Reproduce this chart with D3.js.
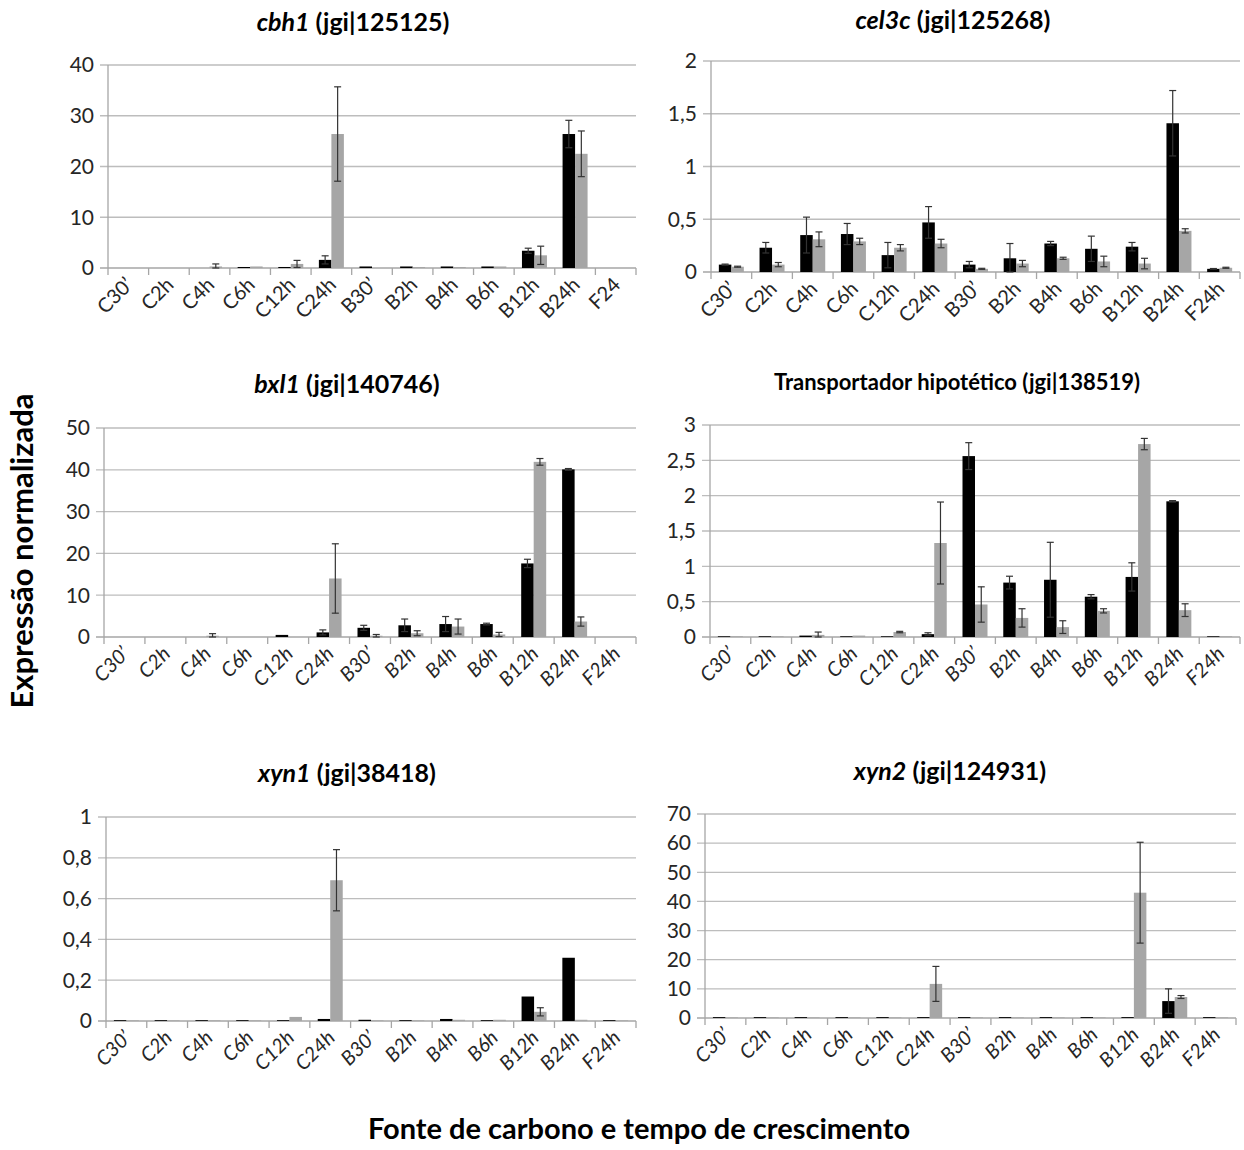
<!DOCTYPE html>
<meta charset="utf-8">
<style>
body { margin: 0; background: #fff; }
text { font-family: Lato, "Open Sans", sans-serif; }
.grid { stroke: #bdbdbd; stroke-width: 1.3px; }
.axisline { stroke: #a6a6a6; stroke-width: 1.3px; }
.tick-lab { fill: #262626; font-size: 21px; }
.cat-lab { fill: #262626; font-size: 20px; }
.title { fill: #000; font-weight: bold; font-size: 25px; }
.err { stroke: #333; stroke-width: 1.2px; }
</style>
<body>
<script src="https://d3js.org/d3.v7.min.js"></script>
<script>

var width = 1244,
    height = 1150;

var cats = ["C30’", "C2h", "C4h", "C6h", "C12h", "C24h", "B30’", "B2h", "B4h", "B6h", "B12h", "B24h", "F24h"];
var catsCbh1 = ["C30’", "C2h", "C4h", "C6h", "C12h", "C24h", "B30’", "B2h", "B4h", "B6h", "B12h", "B24h", "F24"];

// cbh1
var cbh1Black    = [0, 0, 0, 0.2, 0.2, 1.6, 0.3, 0.3, 0.3, 0.3, 3.4, 26.4, 0];
var cbh1BlackErr = [0, 0, 0, 0, 0, 0.8, 0, 0, 0, 0, 0.5, 2.7, 0];
var cbh1Grey     = [0, 0, 0.3, 0.3, 0.8, 26.4, 0, 0.2, 0.2, 0.3, 2.5, 22.5, 0];
var cbh1GreyErr  = [0, 0, 0.5, 0, 0.7, 9.3, 0, 0, 0, 0, 1.8, 4.5, 0];

// cel3c
var cel3cBlack    = [0.07, 0.23, 0.35, 0.36, 0.16, 0.47, 0.07, 0.13, 0.27, 0.22, 0.24, 1.41, 0.03];
var cel3cBlackErr = [0.005, 0.05, 0.17, 0.1, 0.12, 0.15, 0.03, 0.14, 0.02, 0.12, 0.04, 0.31, 0.003];
var cel3cGrey     = [0.05, 0.07, 0.31, 0.29, 0.23, 0.27, 0.03, 0.08, 0.13, 0.1, 0.08, 0.39, 0.04];
var cel3cGreyErr  = [0.005, 0.02, 0.07, 0.03, 0.03, 0.04, 0.005, 0.03, 0.01, 0.05, 0.05, 0.02, 0.005];

// bxl1
var bxl1Black    = [0, 0, 0, 0, 0.5, 1.1, 2.2, 2.8, 3.1, 3.1, 17.6, 40.1, 0];
var bxl1BlackErr = [0, 0, 0, 0, 0, 0.6, 0.6, 1.5, 1.8, 0.2, 1, 0.2, 0];
var bxl1Grey     = [0, 0, 0.3, 0, 0, 14, 0.3, 0.9, 2.5, 0.6, 41.9, 3.7, 0];
var bxl1GreyErr  = [0, 0, 0.5, 0, 0, 8.3, 0.3, 0.6, 1.8, 0.5, 0.8, 1.1, 0];

// transportador hipotetico
var transBlack    = [0.01, 0.01, 0.02, 0.01, 0.01, 0.04, 2.56, 0.77, 0.81, 0.57, 0.85, 1.92, 0.01];
var transBlackErr = [0, 0, 0, 0, 0, 0.02, 0.19, 0.09, 0.53, 0.03, 0.2, 0.01, 0];
var transGrey     = [0.01, 0.01, 0.03, 0.02, 0.07, 1.33, 0.46, 0.27, 0.14, 0.37, 2.73, 0.38, 0.01];
var transGreyErr  = [0, 0, 0.04, 0, 0.01, 0.58, 0.25, 0.13, 0.09, 0.03, 0.08, 0.09, 0];

// xyn1
var xyn1Black    = [0.004, 0.004, 0.004, 0.004, 0.004, 0.01, 0.006, 0.004, 0.01, 0.004, 0.12, 0.31, 0.004];
var xyn1BlackErr = [0, 0, 0, 0, 0, 0, 0, 0, 0, 0, 0, 0, 0];
var xyn1Grey     = [0.003, 0.003, 0.003, 0.003, 0.02, 0.69, 0.003, 0.003, 0.006, 0.006, 0.045, 0.006, 0.003];
var xyn1GreyErr  = [0, 0, 0, 0, 0, 0.15, 0, 0, 0, 0, 0.02, 0, 0];

// xyn2
var xyn2Black    = [0.3, 0.3, 0.3, 0.3, 0.3, 0.3, 0.3, 0.3, 0.3, 0.3, 0.3, 5.8, 0.3];
var xyn2BlackErr = [0, 0, 0, 0, 0, 0, 0, 0, 0, 0, 0, 4.2, 0];
var xyn2Grey     = [0.2, 0.2, 0.2, 0.2, 0.2, 11.7, 0.2, 0.2, 0.2, 0.2, 43, 7.2, 0.2];
var xyn2GreyErr  = [0, 0, 0, 0, 0, 6, 0, 0, 0, 0, 17.3, 0.5, 0];

var panels = [
  {gene: "cbh1", rest: " (jgi|125125)", cats: catsCbh1,
   black: cbh1Black, blackErr: cbh1BlackErr, grey: cbh1Grey, greyErr: cbh1GreyErr,
   ticks: [0, 10, 20, 30, 40], italicCats: false,
   x0: 108, x1: 636, y0: 65, y1: 268, tx: 353, ty: 31},
  {gene: "cel3c", rest: " (jgi|125268)", cats: cats,
   black: cel3cBlack, blackErr: cel3cBlackErr, grey: cel3cGrey, greyErr: cel3cGreyErr,
   ticks: [0, 0.5, 1, 1.5, 2], italicCats: false,
   x0: 711, x1: 1240, y0: 61, y1: 272, tx: 953, ty: 29},
  {gene: "bxl1", rest: " (jgi|140746)", cats: cats,
   black: bxl1Black, blackErr: bxl1BlackErr, grey: bxl1Grey, greyErr: bxl1GreyErr,
   ticks: [0, 10, 20, 30, 40, 50], italicCats: true,
   x0: 104, x1: 636, y0: 428, y1: 637, tx: 347, ty: 393},
  {gene: "", rest: "Transportador hipotético (jgi|138519)", small: true, cats: cats,
   black: transBlack, blackErr: transBlackErr, grey: transGrey, greyErr: transGreyErr,
   ticks: [0, 0.5, 1, 1.5, 2, 2.5, 3], italicCats: true,
   x0: 710, x1: 1240, y0: 425, y1: 637, tx: 957, ty: 390},
  {gene: "xyn1", rest: " (jgi|38418)", cats: cats,
   black: xyn1Black, blackErr: xyn1BlackErr, grey: xyn1Grey, greyErr: xyn1GreyErr,
   ticks: [0, 0.2, 0.4, 0.6, 0.8, 1], italicCats: true,
   x0: 106, x1: 636, y0: 817, y1: 1021, tx: 347, ty: 782},
  {gene: "xyn2", rest: " (jgi|124931)", cats: cats,
   black: xyn2Black, blackErr: xyn2BlackErr, grey: xyn2Grey, greyErr: xyn2GreyErr,
   ticks: [0, 10, 20, 30, 40, 50, 60, 70], italicCats: true,
   x0: 705, x1: 1236, y0: 814, y1: 1018, tx: 950, ty: 780}
];

var fmt = function(v) { return String(v).replace(".", ","); };

var svg = d3.select("body").append("svg")
    .attr("width", width)
    .attr("height", height);

panels.forEach(function(p) {
  var g = svg.append("g");
  var ymax = p.ticks[p.ticks.length - 1];

  var x = d3.scaleBand()
      .domain(p.cats)
      .range([p.x0, p.x1])
      .paddingInner(0)
      .paddingOuter(0);

  var y = d3.scaleLinear()
      .domain([0, ymax])
      .range([p.y1, p.y0]);

  // gridlines + y labels
  g.selectAll(".grid")
      .data(p.ticks)
      .enter().append("line")
      .attr("class", function(d) { return d === 0 ? "axisline" : "grid"; })
      .attr("x1", p.x0 - 8)
      .attr("x2", p.x1)
      .attr("y1", function(d) { return y(d); })
      .attr("y2", function(d) { return y(d); });

  g.selectAll(".tick-lab")
      .data(p.ticks)
      .enter().append("text")
      .attr("class", "tick-lab")
      .attr("x", p.x0 - 14)
      .attr("y", function(d) { return y(d); })
      .attr("dy", "0.35em")
      .attr("text-anchor", "end")
      .text(fmt);

  // y axis line
  g.append("line")
      .attr("class", "axisline")
      .attr("x1", p.x0).attr("x2", p.x0)
      .attr("y1", p.y0).attr("y2", p.y1 + 7);

  // category boundary ticks
  var edges = p.cats.map(function(c) { return x(c); }).concat([p.x1]);
  g.selectAll(".ctick")
      .data(edges.slice(1))
      .enter().append("line")
      .attr("class", "axisline")
      .attr("x1", function(d) { return d; })
      .attr("x2", function(d) { return d; })
      .attr("y1", p.y1)
      .attr("y2", p.y1 + 7);

  var bw = 12.5;
  var cx = function(i) { return x(p.cats[i]) + x.bandwidth() / 2; };

  // bars
  g.selectAll(".bblack")
      .data(p.black)
      .enter().append("rect")
      .attr("x", function(d, i) { return cx(i) - bw; })
      .attr("width", bw)
      .attr("y", function(d) { return y(d); })
      .attr("height", function(d) { return p.y1 - y(d); })
      .attr("fill", "#000");

  g.selectAll(".bgrey")
      .data(p.grey)
      .enter().append("rect")
      .attr("x", function(d, i) { return cx(i); })
      .attr("width", bw)
      .attr("y", function(d) { return y(d); })
      .attr("height", function(d) { return p.y1 - y(d); })
      .attr("fill", "#a6a6a6");

  // error bars
  function errBars(vals, errs, off) {
    var data = vals.map(function(v, i) { return {v: v, e: errs[i], i: i}; })
        .filter(function(d) { return d.e > 0; });
    var eg = g.selectAll(null).data(data).enter().append("g");
    var ex = function(d) { return cx(d.i) + off; };
    eg.append("line").attr("class", "err")
        .attr("x1", ex).attr("x2", ex)
        .attr("y1", function(d) { return y(Math.max(0, d.v - d.e)); })
        .attr("y2", function(d) { return y(d.v + d.e); });
    [1, -1].forEach(function(s) {
      eg.append("line").attr("class", "err")
          .attr("x1", function(d) { return ex(d) - 3.5; })
          .attr("x2", function(d) { return ex(d) + 3.5; })
          .attr("y1", function(d) { return y(Math.max(0, d.v + s * d.e)); })
          .attr("y2", function(d) { return y(Math.max(0, d.v + s * d.e)); });
    });
  }
  errBars(p.black, p.blackErr, -bw / 2);
  errBars(p.grey, p.greyErr, bw / 2);

  // category labels
  g.selectAll(".cat-lab")
      .data(p.cats)
      .enter().append("text")
      .attr("class", "cat-lab")
      .attr("text-anchor", "end")
      .style("font-style", p.italicCats ? "italic" : "normal")
      .attr("transform", function(d) {
        return "translate(" + (x(d) + x.bandwidth() / 2 + 6) + "," + (p.y1 + 18) + ") rotate(-45)";
      })
      .text(function(d) { return d; });

  // title
  var t = g.append("text")
      .attr("class", "title")
      .attr("x", p.tx)
      .attr("y", p.ty)
      .attr("text-anchor", "middle")
      .style("font-size", p.small ? "22px" : "25px");
  if (p.gene) t.append("tspan").style("font-style", "italic").text(p.gene);
  t.append("tspan").text(p.rest);
});

// shared axis titles
svg.append("text")
    .attr("transform", "translate(33,551) rotate(-90)")
    .attr("text-anchor", "middle")
    .style("font-weight", "bold")
    .style("font-size", "31px")
    .text("Expressão normalizada");

svg.append("text")
    .attr("x", 639)
    .attr("y", 1139)
    .attr("text-anchor", "middle")
    .style("font-weight", "bold")
    .style("font-size", "29px")
    .text("Fonte de carbono e tempo de crescimento");

</script>
